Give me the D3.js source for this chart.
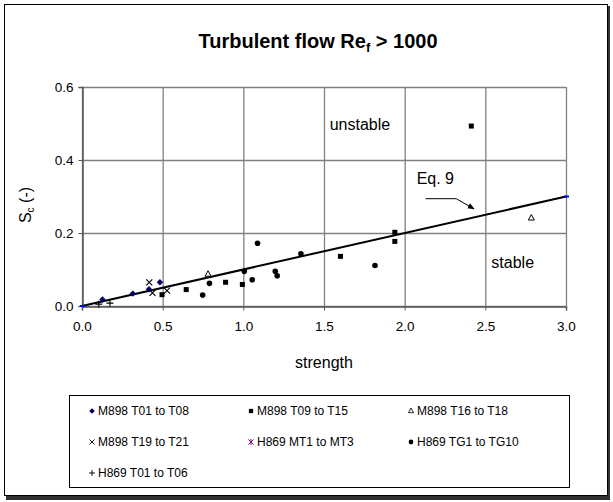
<!DOCTYPE html>
<html><head><meta charset="utf-8">
<script src="https://cdn.jsdelivr.net/npm/d3@7"></script>
<style>
body{margin:0;background:#fff;}
text{font-family:"Liberation Sans",Arial,sans-serif;}
</style></head>
<body><svg id="c" width="613" height="502"></svg>
<script>
// ---- data ----
const xTicks = [0.0, 0.5, 1.0, 1.5, 2.0, 2.5, 3.0];
const yTicks = [0.0, 0.2, 0.4, 0.6];
const seriesNames = ["M898 T01 to T08","M898 T09 to T15","M898 T16 to T18","M898 T19 to T21","H869 MT1 to MT3","H869 TG1 to TG10","H869 T01 to T06"];
const m898a = [[0.127,0.018],[0.315,0.034],[0.415,0.046],[0.483,0.065]];
const m898b = [[0.496,0.031],[0.646,0.045],[0.89,0.065],[0.994,0.059],[1.602,0.136],[1.939,0.202],[1.939,0.177],[2.413,0.493]];
const m898c = [[0.781,0.087],[2.785,0.241]];
const m898d = [[0.417,0.065],[0.437,0.036],[0.527,0.042]];
const h869mt = [];
const h869tg = [[0.748,0.030],[0.79,0.062],[1.006,0.095],[1.055,0.072],[1.088,0.172],[1.198,0.095],[1.21,0.083],[1.357,0.143],[1.816,0.111]];
const h869t = [[0.104,0.005],[0.173,0.008]];
const eq9 = [[0,0],[3,0.3]];
const arrowPts = [[2.13,0.294],[2.32,0.294],[2.43,0.266]];

const svg = d3.select("#c");
// outer frame with shadow
svg.append("rect").attr("x",6).attr("y",6).attr("width",604).attr("height",494).attr("fill","#333");
svg.append("rect").attr("x",4.5).attr("y",4.5).attr("width",603).attr("height",491).attr("fill","#fff").attr("stroke","#000").attr("stroke-width",1);

const x = d3.scaleLinear().domain([0,3]).range([82,566]);
const y = d3.scaleLinear().domain([0,0.6]).range([306,87]);

// title
const t = svg.append("text").attr("x",318).attr("y",48).attr("text-anchor","middle")
  .attr("font-size",20).attr("font-weight","bold");
t.append("tspan").text("Turbulent flow Re");
t.append("tspan").attr("font-size",13).attr("dy",4).text("f");
t.append("tspan").attr("dy",-4).text(" > 1000");

// grid
const g = svg.append("g");
g.selectAll("line.v").data(xTicks).join("line")
  .attr("x1",d=>x(d)+0.5).attr("x2",d=>x(d)+0.5).attr("y1",y(0.6)).attr("y2",y(0))
  .attr("stroke","#808080").attr("stroke-width",1.3);
g.selectAll("line.h").data(yTicks).join("line")
  .attr("y1",d=>Math.round(y(d))+0.5).attr("y2",d=>Math.round(y(d))+0.5).attr("x1",x(0)).attr("x2",x(3))
  .attr("stroke","#808080").attr("stroke-width",1.3);

// axes
const xa = svg.append("g").attr("transform",`translate(0,${Math.round(y(0))+0.5})`)
  .call(d3.axisBottom(x).tickValues(xTicks).tickFormat(d3.format(".1f")).tickSize(4).tickPadding(11));
const ya = svg.append("g").attr("transform",`translate(${x(0)+0.5},0)`)
  .call(d3.axisLeft(y).tickValues(yTicks).tickFormat(d3.format(".1f")).tickSize(4).tickPadding(5));
[xa,ya].forEach(a=>{
  a.select(".domain").attr("stroke","#555").attr("stroke-width",1.5);
  a.selectAll(".tick line").attr("stroke","#555");
  a.selectAll("text").attr("font-size",13.5).attr("font-family","Liberation Sans, Arial, sans-serif").attr("fill","#000");
});

// axis titles
svg.append("text").attr("x",x(1.5)).attr("y",368).attr("text-anchor","middle").attr("font-size",16).text("strength");
const yl = svg.append("text").attr("transform","translate(31,205) rotate(-90)").attr("text-anchor","middle").attr("font-size",16);
yl.append("tspan").text("S");
yl.append("tspan").attr("font-size",10).attr("dy",3).text("c");
yl.append("tspan").attr("dy",-3).text("  (-)");

// Eq 9 line
svg.append("path").datum(eq9).attr("d",d3.line().x(d=>x(d[0])).y(d=>y(d[1])))
  .attr("stroke","#000").attr("stroke-width",2).attr("fill","none");
svg.selectAll("line.end").data(eq9).join("line")
  .attr("x1",d=>x(d[0])-2).attr("x2",d=>x(d[0])+3).attr("y1",d=>y(d[1])).attr("y2",d=>y(d[1]))
  .attr("stroke","#0000ff").attr("stroke-width",2);

// arrow
svg.append("defs").append("marker").attr("id","ah").attr("viewBox","0 0 10 10").attr("refX",9).attr("refY",5)
  .attr("markerWidth",7).attr("markerHeight",7).attr("orient","auto")
  .append("path").attr("d","M0,1 L10,5 L0,9 Z").attr("fill","#000");
svg.append("path").datum(arrowPts).attr("d",d3.line().x(d=>x(d[0])).y(d=>y(d[1])))
  .attr("stroke","#000").attr("stroke-width",1).attr("fill","none").attr("marker-end","url(#ah)");

// annotations
svg.append("text").attr("x",x(2.19)).attr("y",y(0.35)+6).attr("text-anchor","middle").attr("font-size",16).text("Eq. 9");
svg.append("text").attr("x",x(1.91)).attr("y",y(0.5)+6).attr("text-anchor","end").attr("font-size",16).text("unstable");
svg.append("text").attr("x",x(2.5)+6).attr("y",y(0.12)+6).attr("font-size",16).text("stable");

// markers
function marker(sel, type){
  if(type==="diamond"){ sel.append("path").attr("d","M0,-3.2L3.2,0L0,3.2L-3.2,0Z").attr("fill","#000066"); }
  else if(type==="square"){ sel.append("rect").attr("x",-2.5).attr("y",-2.5).attr("width",5).attr("height",5).attr("fill","#000"); }
  else if(type==="triangle"){ sel.append("path").attr("d","M0,-3.5L3,2L-3,2Z").attr("fill","#fff").attr("stroke","#000").attr("stroke-width",1); }
  else if(type==="x"){ sel.append("path").attr("d","M-3,-3L3,3M-3,3L3,-3").attr("stroke","#000").attr("stroke-width",1.1); }
  else if(type==="ast"){ sel.append("path").attr("d","M-3,-3L3,3M-3,3L3,-3M0,-3.5L0,3.5").attr("stroke","#800080").attr("stroke-width",1.1); }
  else if(type==="circle"){ sel.append("circle").attr("r",2.8).attr("fill","#000"); }
  else if(type==="plus"){ sel.append("path").attr("d","M-3.5,0L3.5,0M0,-3.5L0,3.5").attr("stroke","#000").attr("stroke-width",1.1); }
}
const seriesData = [m898a,m898b,m898c,m898d,h869mt,h869tg,h869t];
const types = ["diamond","square","triangle","x","ast","circle","plus"];
seriesData.forEach((arr,i)=>{
  arr.forEach(p=>{
    const gg = svg.append("g").attr("transform",`translate(${x(p[0])},${y(p[1])})`);
    marker(gg, types[i]);
  });
});

// legend
svg.append("rect").attr("x",69.5).attr("y",395.5).attr("width",500).attr("height",92).attr("fill","#fff").attr("stroke","#000");
const colX = [92,251,411];
const rowY = [411,442,473];
seriesNames.forEach((n,i)=>{
  const cx = colX[i%3], cy = rowY[Math.floor(i/3)];
  const gg = svg.append("g").attr("transform",`translate(${cx},${cy})`);
  marker(gg.append("g").attr("transform","scale(0.85)"), types[i]);
  svg.append("text").attr("x",cx+6).attr("y",cy+4).attr("font-size",12).text(n);
});
</script></body></html>
